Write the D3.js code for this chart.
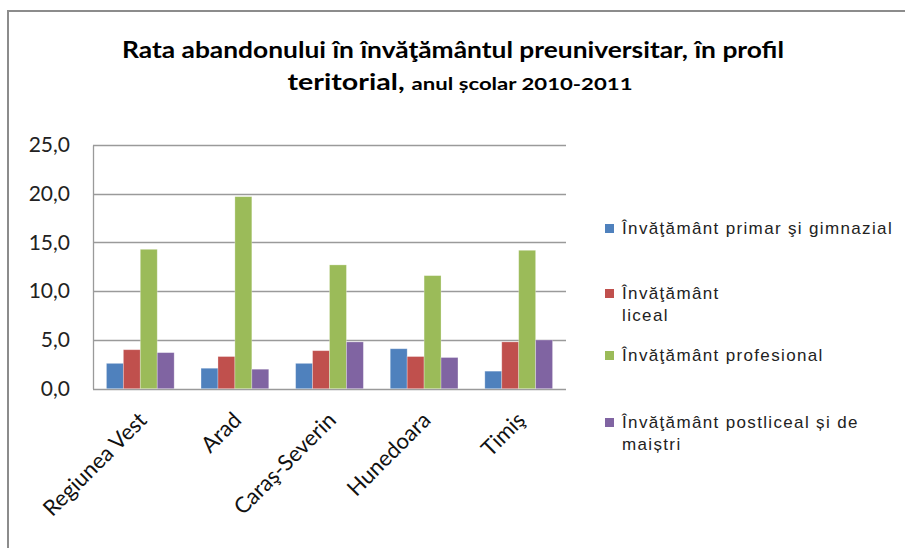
<!DOCTYPE html>
<html>
<head>
<meta charset="utf-8">
<script src="https://cdn.jsdelivr.net/npm/d3@7"></script>
<style>
  body { margin: 0; background: #fff; }
  svg { display: block; }
</style>
</head>
<body>
<svg id="chart" width="905" height="548"></svg>
<script>
var categories = ["Regiunea Vest", "Arad", "Caraş-Severin", "Hunedoara", "Timiş"];
var seriesNames = ["Învăţământ primar şi gimnazial", "Învăţământ liceal", "Învăţământ profesional", "Învăţământ postliceal și de maiștri"];
var primar = [2.6, 2.1, 2.6, 4.1, 1.8];
var liceal = [4.0, 3.3, 3.9, 3.3, 4.8];
var profesional = [14.3, 19.7, 12.7, 11.6, 14.2];
var postliceal = [3.7, 2.0, 4.8, 3.2, 5.0];
var yTicks = [0, 5, 10, 15, 20, 25];

var colors = ["#4F81BD", "#C0504D", "#9BBB59", "#8064A2"];
var values = [primar, liceal, profesional, postliceal];

var margin = {top: 145, left: 93, right: 339, bottom: 160},
    width = 905 - margin.left - margin.right,
    height = 548 - margin.top - margin.bottom + 0.7;

var svg = d3.select("#chart");

// outer frame (left + top edge)
svg.append("path")
    .attr("d", "M8,548 L8,11 L905,11")
    .attr("fill", "none")
    .attr("stroke", "#8c8c8c")
    .attr("stroke-width", 2);

// title
var title = svg.append("g").attr("font-family", "Lato, 'Open Sans', sans-serif")
    .attr("font-weight", "bold").attr("fill", "#000");
title.append("text")
    .attr("x", 453).attr("y", 58)
    .attr("text-anchor", "middle")
    .attr("font-size", 22)
    .attr("textLength", 662)
    .attr("lengthAdjust", "spacingAndGlyphs")
    .text("Rata abandonului în învăţământul preuniversitar, în profil");
var t2 = title.append("text")
    .attr("x", 460).attr("y", 90)
    .attr("text-anchor", "middle")
    .attr("textLength", 345)
    .attr("lengthAdjust", "spacingAndGlyphs");
t2.append("tspan").attr("font-size", 22).text("teritorial, ");
t2.append("tspan").attr("font-size", 17).text("anul școlar 2010-2011");

var x = d3.scaleBand()
    .domain(categories)
    .range([0, width])
    .paddingInner(0.284)
    .paddingOuter(0.142);

var x1 = d3.scaleBand()
    .domain(d3.range(seriesNames.length))
    .range([0, x.bandwidth()]);

var y = d3.scaleLinear().domain([0, 25]).range([height, 0]);

var g = svg.append("g")
    .attr("transform", "translate(" + margin.left + "," + margin.top + ")");

// gridlines
g.selectAll("line.grid")
    .data(yTicks)
  .enter().append("line")
    .attr("class", "grid")
    .attr("x1", 0).attr("x2", width)
    .attr("y1", function(d) { return Math.round(y(d)) + 0.5; })
    .attr("y2", function(d) { return Math.round(y(d)) + 0.5; })
    .attr("stroke", "#9a9a9a")
    .attr("stroke-width", 1.3);

// y axis
var yAxis = d3.axisLeft(y)
    .tickValues(yTicks)
    .tickSize(0)
    .tickPadding(23)
    .tickFormat(function(d) { return d3.format(".1f")(d).replace(".", ","); });

var ya = g.append("g").call(yAxis);
ya.select(".domain").attr("stroke", "#9a9a9a").attr("stroke-width", 1.3);
ya.selectAll("text")
    .attr("font-family", "Lato, 'Open Sans', sans-serif")
    .attr("font-size", 21)
    .attr("fill", "#222");

// bars
var groups = g.selectAll("g.cat")
    .data(categories)
  .enter().append("g")
    .attr("class", "cat")
    .attr("transform", function(d) { return "translate(" + x(d) + ",0)"; });

groups.selectAll("rect")
    .data(function(d, i) { return values.map(function(v, s) { return {s: s, v: v[i]}; }); })
  .enter().append("rect")
    .attr("x", function(d) { return x1(d.s); })
    .attr("width", x1.bandwidth())
    .attr("y", function(d) { return y(d.v); })
    .attr("height", function(d) { return height - y(d.v); })
    .attr("fill", function(d) { return colors[d.s]; })
    .attr("stroke", "#fff")
    .attr("stroke-opacity", 0.35)
    .attr("stroke-width", 0.8);

// x labels
g.selectAll("text.xl")
    .data(categories)
  .enter().append("text")
    .attr("class", "xl")
    .attr("transform", function(d) {
      return "translate(" + (x(d) + x.bandwidth() / 2 - 3) + "," + (height + 22) + ") rotate(-45)";
    })
    .attr("text-anchor", "end")
    .attr("dy", "0.7em")
    .attr("font-family", "Lato, 'Open Sans', sans-serif")
    .attr("font-size", 22)
    .attr("fill", "#111")
    .text(function(d) { return d; });

// legend
var legendLines = [
  ["Învăţământ primar şi gimnazial"],
  ["Învăţământ", "liceal"],
  ["Învăţământ profesional"],
  ["Învăţământ postliceal și de", "maiștri"]
];
var legendY = [228, 293, 355, 422];

var leg = svg.append("g")
    .attr("font-family", "'Liberation Sans', Arial, sans-serif")
    .attr("font-size", 17)
    .attr("letter-spacing", 1.35)
    .attr("fill", "#222");

legendLines.forEach(function(lines, i) {
  leg.append("rect")
      .attr("x", 605).attr("y", legendY[i] - 4)
      .attr("width", 9).attr("height", 9)
      .attr("fill", colors[i]);
  var t = leg.append("text").attr("x", 622).attr("y", legendY[i] + 6);
  lines.forEach(function(l, k) {
    t.append("tspan").attr("x", 622).attr("dy", k === 0 ? 0 : 22).text(l);
  });
});
</script>
</body>
</html>
